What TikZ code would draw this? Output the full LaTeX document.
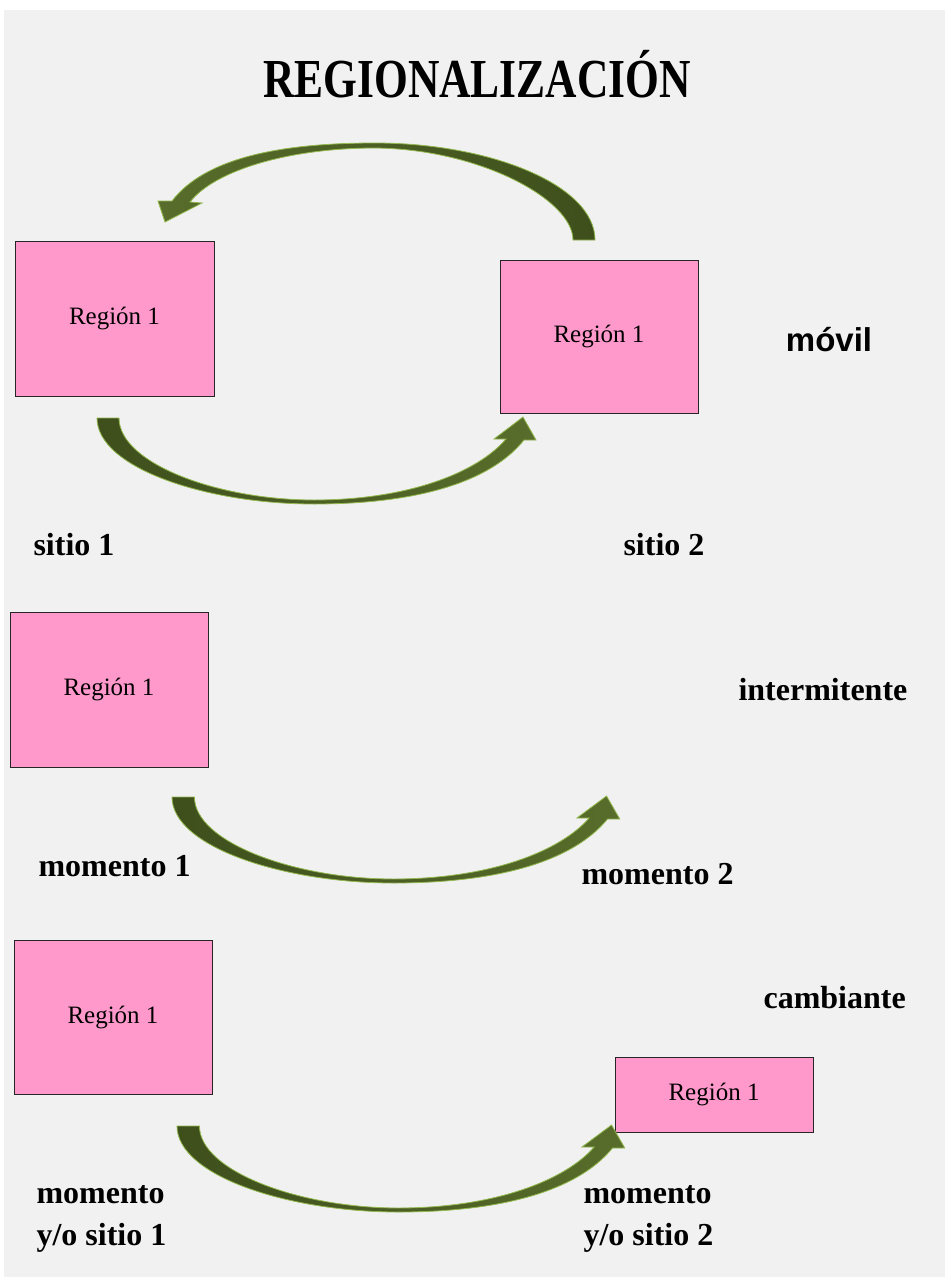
\documentclass[tikz,border=0pt]{standalone}
\usepackage{fontspec}
\setmainfont{Liberation Serif}
\newfontfamily\arialfont{Liberation Sans}

\definecolor{regionpink}{HTML}{FF99CC}
\definecolor{olivedark}{HTML}{3E4F1C}
\definecolor{olivelight}{HTML}{586D2B}
\definecolor{glow}{HTML}{92B84E}
\definecolor{sheet}{HTML}{F1F1F1}

\begin{document}
\begin{tikzpicture}
    [ x=1pt, y=-1pt,
      region/.style={draw=black!85, fill=regionpink, line width=1pt, inner sep=0pt,
                     font={\fontsize{25}{30}\selectfont}},
      tag/.style={anchor=west, align=left, font={\bfseries\fontsize{32}{42}\selectfont}},
      swoosh/.style={left color=olivedark, right color=olivelight, draw=glow, line width=.8pt},
      swooshback/.style={swoosh, left color=olivelight, right color=olivedark}
    ]
    \def\swooshpath{%
        \path[swoosh] (0,0) -- (22,0)
            .. controls (22,45) and (120,82) .. (217,82)
            .. controls (310,82) and (380,55) .. (409,21)
            -- (397,21) -- (426,-1) -- (439,22) -- (427,22)
            .. controls (390,68) and (310,86) .. (217,86)
            .. controls (110,86) and (0,50) .. (0,0) -- cycle;
    }

    % Sheet
    \fill[white] (0,0) rectangle (945,1285);
    \fill[sheet] (4,10) rectangle (945,1277);

    % Title
    \node[font={\bfseries\fontsize{55}{60}\selectfont}, xscale=.79] (title) at (477,74) {REGIONALIZACIÓN};

    % Regions
    \node[region, minimum width=199, minimum height=155] (regA) at (114.5,318.5) {Región 1};
    \node[region, minimum width=198, minimum height=153] (regB) at (599,336.5) {Región 1};
    \node[region, minimum width=198, minimum height=155] (regC) at (109,689.5) {Región 1};
    \node[region, minimum width=198, minimum height=154] (regD) at (113,1017) {Región 1};
    \node[region, minimum width=198, minimum height=75] (regE) at (714,1094.5) {Región 1};

    % Labels
    \node[font={\arialfont\bfseries\fontsize{33}{40}\selectfont}] (movil) at (829,340) {móvil};
    \node[tag] (sitioA) at (30,545) {sitio 1};
    \node[tag] (sitioB) at (620,545) {sitio 2};
    \node[tag] (intermit) at (735,690) {intermitente};
    \node[tag] (momA) at (35,866) {momento 1};
    \node[tag] (momB) at (578,874) {momento 2};
    \node[tag] (cambia) at (760,998) {cambiante};
    \node[tag] (mixA) at (33,1219) {momento\\y/o sitio 1};
    \node[tag] (mixB) at (580,1219) {momento\\y/o sitio 2};

    % Arrows
    \path[swooshback] (595,240) -- (573,240)
        .. controls (573,200) and (480,149) .. (375,148)
        .. controls (290,148) and (215,170) .. (190,202)
        -- (202,203) -- (165,222) -- (158,201) -- (172,201)
        .. controls (205,158) and (280,143) .. (375,143)
        .. controls (490,143) and (595,185) .. (595,240) -- cycle;
    \begin{scope}[shift={(97,418)}]
        \swooshpath
    \end{scope}
    \begin{scope}[shift={(172,797)}, xscale=1.02]
        \swooshpath
    \end{scope}
    \begin{scope}[shift={(177,1126)}, xscale=1.02]
        \swooshpath
    \end{scope}

\end{tikzpicture}
\end{document}
